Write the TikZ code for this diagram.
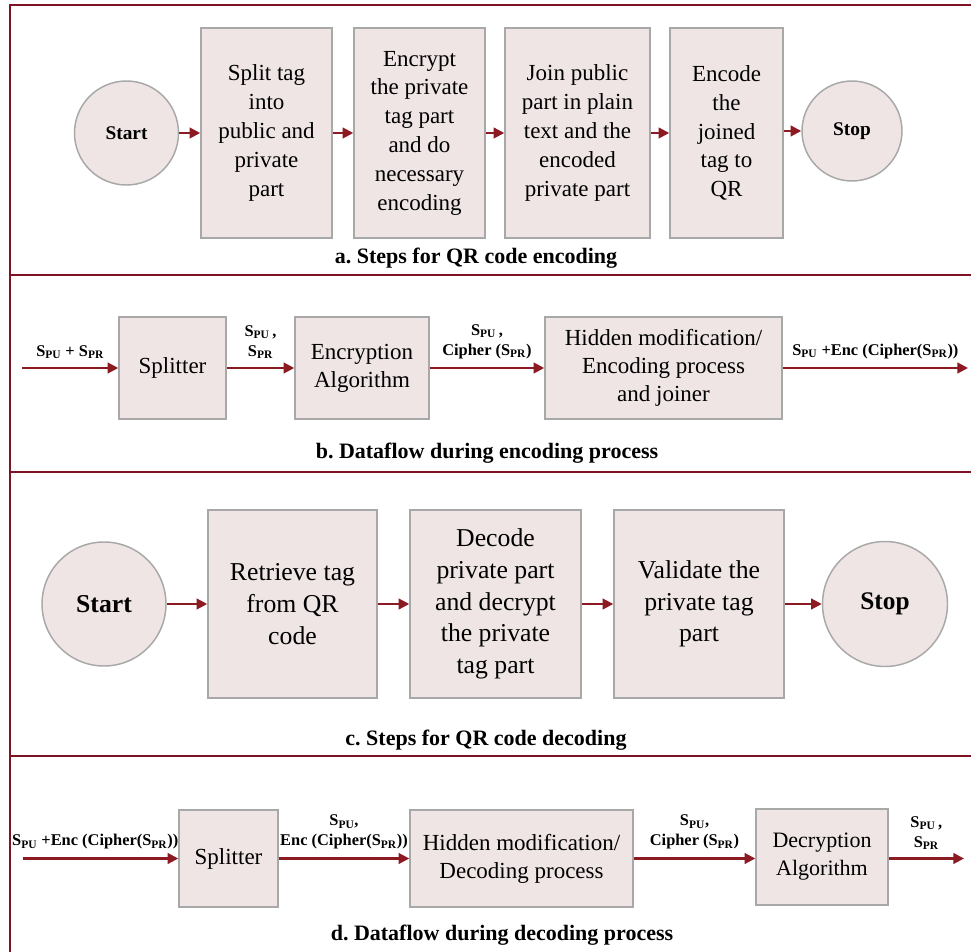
\documentclass[tikz,border=0pt]{standalone}
\usepackage{fontspec}
\setmainfont{Liberation Serif}
\usetikzlibrary{arrows.meta}
\definecolor{boxfill}{HTML}{EFE5E5}
\definecolor{boxline}{HTML}{A8A8A8}
\definecolor{arrred}{HTML}{8B1A22}
\definecolor{framered}{HTML}{7D1426}
\newcommand\spu{S\textsubscript{PU}}
\newcommand\spr{S\textsubscript{PR}}
\frenchspacing
\begin{document}
\begin{tikzpicture}[x=0.75pt,y=-0.75pt,
 proc/.style={draw=boxline, line width=1.1pt, fill=boxfill, align=center, inner sep=2pt},
 term/.style={circle, draw=boxline, line width=1.1pt, fill=boxfill, inner sep=0pt},
 arr/.style={draw=arrred, line width=1.6pt, -{Triangle[length=8pt,width=8pt]}},
 lbl/.style={font=\bfseries\fontsize{12.3}{15}\selectfont, align=center, inner sep=1pt, above=5pt, text=black},
 capt/.style={font=\bfseries\fontsize{16.5}{19}\selectfont},
 panelline/.style={draw=framered, line width=2.1pt},
 fa/.style={font=\fontsize{17.25}{21.6}\selectfont},
 fb/.style={font=\fontsize{17.25}{21}\selectfont},
 fc/.style={font=\fontsize{19.3}{23.8}\selectfont}
]
\useasboundingbox (0,0) rectangle (971,952);
% frame
\draw[panelline] (971,5) -- (10,5) -- (10,952);
\draw[panelline] (10,275) -- (971,275);
\draw[panelline] (10,472) -- (971,472);
\draw[panelline] (10,756) -- (971,756);

% ---------- panel a ----------
\node[term, minimum size=78pt, font=\bfseries\fontsize{14.5}{17}\selectfont] (sa) at (126.5,133) {Start};
\node[proc, fa, minimum width=98.25pt, minimum height=157.5pt] (a1) at (266.5,133) {Split tag\\into\\public and\\private\\part};
\node[proc, fa, minimum width=98.25pt, minimum height=157.5pt] (a2) at (419.5,133) {Encrypt\\the private\\tag part\\and do\\necessary\\encoding};
\node[proc, fa, minimum width=108.75pt, minimum height=157.5pt] (a3) at (577.5,133) {Join public\\part in plain\\text and the\\encoded\\private part};
\node[proc, fa, minimum width=84.75pt, minimum height=157.5pt] (a4) at (726.5,133) {Encode\\the\\joined\\tag to\\QR};
\node[term, minimum size=75pt, font=\bfseries\fontsize{14.5}{17}\selectfont] (ea) at (852,131) {Stop};
\draw[arr] (sa.east) -- (sa.east -| a1.west);
\draw[arr] (a1.east) -- (a1.east -| a2.west);
\draw[arr] (a2.east) -- (a2.east -| a3.west);
\draw[arr] (a3.east) -- (a3.east -| a4.west);
\draw[arr] (a4.east |- ea.west) -- (ea.west);
\node[capt] (capa) at (476,258) {a. Steps for QR code encoding};

% ---------- panel b ----------
\coordinate (bin) at (22,368);
\coordinate (bout) at (968,368);
\node[proc, fb, minimum width=80.25pt, minimum height=76.5pt] (b1) at (172.5,368) {Splitter};
\node[proc, fb, minimum width=100.5pt, minimum height=76.5pt] (b2) at (362,368) {Encryption\\Algorithm};
\node[proc, fb, minimum width=177.75pt, minimum height=76.5pt] (b3) at (663.5,368) {Hidden modification/\\Encoding process\\and joiner};
\draw[arr] (bin) -- node[lbl] {\spu{} + \spr} (b1.west);
\draw[arr] (b1.east) -- node[lbl] {\spu\,,\\\spr} (b2.west);
\draw[arr] (b2.east) -- node[lbl] {\spu\,,\\Cipher (\spr)} (b3.west);
\draw[arr] (b3.east) -- node[lbl] {\spu{} +Enc (Cipher(\spr))} (bout);
\node[capt] (capb) at (487,453) {b. Dataflow during encoding process};

% ---------- panel c ----------
\node[term, minimum size=93pt, font=\bfseries\fontsize{19.3}{23}\selectfont] (sc) at (104,604) {Start};
\node[proc, fc, minimum width=126.75pt, minimum height=141pt] (c1) at (292.5,604) {Retrieve tag\\from QR\\code};
\node[proc, fc, minimum width=128.25pt, minimum height=141pt] (c2) at (495.5,604) {Decode\\private part\\and decrypt\\the private\\tag part};
\node[proc, fc, minimum width=127.5pt, minimum height=141pt] (c3) at (699,604) {Validate the\\private tag\\part};
\node[term, minimum size=93.75pt, font=\bfseries\fontsize{19}{23}\selectfont] (ec) at (885,604) {Stop};
\draw[arr] (sc.east) -- (c1.west);
\draw[arr] (c1.east) -- (c2.west);
\draw[arr] (c2.east) -- (c3.west);
\draw[arr] (c3.east) -- (ec.west);
\node[capt] (capc) at (486,740) {c. Steps for QR code decoding};

% ---------- panel d ----------
\coordinate (din) at (23,858.5);
\coordinate (dout) at (964,858.5);
\node[proc, fb, minimum width=74.25pt, minimum height=72.75pt] (d1) at (228.5,858.5) {Splitter};
\node[proc, fb, minimum width=167.25pt, minimum height=72.75pt] (d2) at (521.5,858.5) {Hidden modification/\\Decoding process};
\node[proc, fb, font=\fontsize{16.5}{21}\selectfont, minimum width=99pt, minimum height=72pt] (d3) at (822,857) {Decryption\\Algorithm};
\draw[arr] (din) -- node[lbl, xshift=-4pt] {\spu{} +Enc (Cipher(\spr))} (d1.west);
\draw[arr] (d1.east) -- node[lbl] {\spu,\\Enc (Cipher(\spr))} (d2.west);
\draw[arr] (d2.east) -- node[lbl] {\spu,\\Cipher (\spr)} (d2.east -| d3.west);
\draw[arr] (d2.east -| d3.east) -- node[lbl] {\spu\,,\\\spr} (dout);
\node[capt] (capd) at (502,935) {d. Dataflow during decoding process};
\end{tikzpicture}
\end{document}
